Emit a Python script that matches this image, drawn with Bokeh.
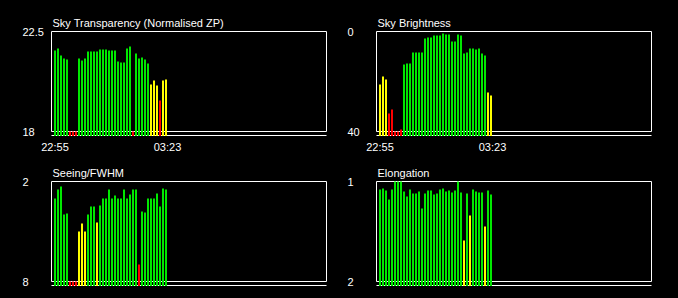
from bokeh.plotting import figure
from bokeh.layouts import gridplot
from bokeh.models import Range1d, ColumnDataSource, Label
from bokeh.embed import file_html
from bokeh.resources import INLINE

# ---------------- data ----------------
time_labels = ["22:55", "03:23"]
time_label_pos = [0, 37.5]

transparency = [21.64, 21.73, 21.42, 21.28, 21.24, 18, 18, 18, 21.28, 21.19,
                21.28, 21.6, 21.6, 21.6, 21.6, 21.69, 21.69, 21.69, 21.64, 21.64,
                21.64, 21.15, 21.1, 21.1, 21.73, 21.82, 18, 21.51, 21.28, 21.33,
                21.24, 21.06, 20.11, 20.3, 20.07, 19.4, 20.3, 20.34]
transparency_flag = ["g"] * 5 + ["r"] * 3 + ["g"] * 18 + ["r"] + ["g"] * 5 + ["y", "y", "y", "r", "y", "y"]

brightness = [21.2, 18, 19.2, 32.8, 31.2, 40, 40, 39.2, 13.2, 12.8,
              12.8, 8.4, 8.4, 8.4, 8.4, 2.8, 2.4, 2.4, 1.6, 1.6,
              1.6, 0.8, 1.2, 1.2, 4, 4, 1.2, 1.6, 8.8, 8.4,
              6.8, 6.8, 7.2, 6.8, 8.8, 9.6, 24.4, 25.6]
brightness_flag = ["y"] * 3 + ["r"] * 5 + ["g"] * 28 + ["y"] * 2

seeing = [3.02, 2.48, 2.3, 3.98, 3.92, 8, 8, 8, 5.0, 4.52,
          5.0, 3.98, 3.5, 3.5, 4.46, 3.44, 3.02, 3.02, 2.48, 3.02,
          2.84, 3.02, 3.02, 2.48, 3.02, 2.78, 2.48, 2.48, 6.98, 3.8,
          3.86, 3.02, 3.02, 3.02, 2.72, 3.5, 2.42, 2.48]
seeing_flag = ["g"] * 5 + ["r"] * 3 + ["y"] * 3 + ["g"] * 3 + ["y"] + ["g"] * 13 + ["r"] + ["g"] * 9

elongation = [1.08, 1.07, 1.09, 1.18, 1.08, 1.0, 1.0, 1.0, 1.10, 1.15,
              1.08, 1.12, 1.12, 1.10, 1.27, 1.12, 1.09, 1.09, 1.13, 1.12,
              1.08, 1.07, 1.10, 1.09, 1.11, 1.09, 1.0, 1.11, 1.59, 1.12,
              1.34, 1.08, 1.10, 1.11, 1.11, 1.45, 1.09, 1.13]
elongation_flag = ["g"] * 28 + ["y", "g", "y"] + ["g"] * 4 + ["y", "g", "g"]

FLAG_COLORS = {"g": "#00E800", "y": "#FFFF00", "r": "#FF0000"}

# ---------------- layout constants (pixels, relative to each panel's band) ----------------
W = 339
TOP_H = 153
BOT_H = 145
BOX_W = 275
BOX_TOP_PX = 30.5
BOX_BOT_PX = 130.5
BASE_PX = 135
LINE2_PX = 134.5
SNAP = 0.5          # pixel snap so 1px lines / 2px bars render crisply
FONT = "Liberation Sans"


def add_label(p, x, y, text, align="left", baseline="middle"):
    p.add_layout(Label(x=x, y=y, text=text, text_font=FONT,
                       text_font_size="11px", text_color="white",
                       text_align=align, text_baseline=baseline))


def panel(title, vals, flags, top_val, bot_val, top_lbl, bot_lbl,
          box_left, first_center, label_x, height, y_off, show_time):
    k = (bot_val - top_val) / (BOX_BOT_PX - BOX_TOP_PX)

    def yd(py):
        return top_val + (py + y_off - BOX_TOP_PX) * k

    def xd(px):
        return (px - first_center) / 3.0

    p = figure(width=W, height=height,
               x_range=Range1d(xd(0 - SNAP), xd(W - SNAP)),
               y_range=Range1d(yd(height - SNAP), yd(0 - SNAP)),
               x_axis_location=None, y_axis_location=None,
               toolbar_location=None, output_backend="svg",
               min_border=0, min_border_left=0, min_border_right=0,
               min_border_top=0, min_border_bottom=0,
               outline_line_color=None,
               background_fill_color="black", border_fill_color="black")
    p.xgrid.grid_line_color = None
    p.ygrid.grid_line_color = None
    p.styles = {"background-color": "black"}

    def ylocal(py):
        return yd(py - y_off)

    # frame box and lower rule
    p.quad(left=[xd(box_left)], right=[xd(box_left + BOX_W)],
           top=[top_val], bottom=[bot_val],
           fill_color=None, line_color="white", line_width=1)
    p.segment(x0=[xd(box_left)], x1=[xd(box_left + BOX_W)],
              y0=[ylocal(LINE2_PX)], y1=[ylocal(LINE2_PX)],
              line_color="white", line_width=1)

    src = ColumnDataSource(dict(
        x=list(range(len(vals))),
        top=vals,
        color=[FLAG_COLORS[f] for f in flags],
    ))
    p.vbar(x="x", width=2 / 3, top="top", bottom=ylocal(BASE_PX), source=src,
           fill_color="color", line_color=None)

    # texts
    add_label(p, xd(box_left + 1), ylocal(21.5), title, baseline="alphabetic")
    add_label(p, xd(label_x), top_val, top_lbl)
    add_label(p, xd(label_x), bot_val, bot_lbl)
    if show_time:
        for pos, lbl in zip(time_label_pos, time_labels):
            add_label(p, pos, ylocal(145.5), lbl, align="center")
    return p


OFF = TOP_H - 150
p1 = panel("Sky Transparency (Normalised ZP)", transparency, transparency_flag,
           22.5, 18, "22.5", "18", 50.5, 54, 21.5, TOP_H, 0, True)
p2 = panel("Sky Brightness", brightness, brightness_flag,
           0, 40, "0", "40", 36.5, 40, 7.5, TOP_H, 0, True)
p3 = panel("Seeing/FWHM", seeing, seeing_flag,
           2, 8, "2", "8", 50.5, 54, 21.5, BOT_H, OFF, False)
p4 = panel("Elongation", elongation, elongation_flag,
           1, 2, "1", "2", 36.5, 40, 7.5, BOT_H, OFF, False)

grid = gridplot([[p1, p2], [p3, p4]], toolbar_location=None)
grid.styles = {"background-color": "black"}

open("out.html", "w").write(file_html(grid, INLINE))
